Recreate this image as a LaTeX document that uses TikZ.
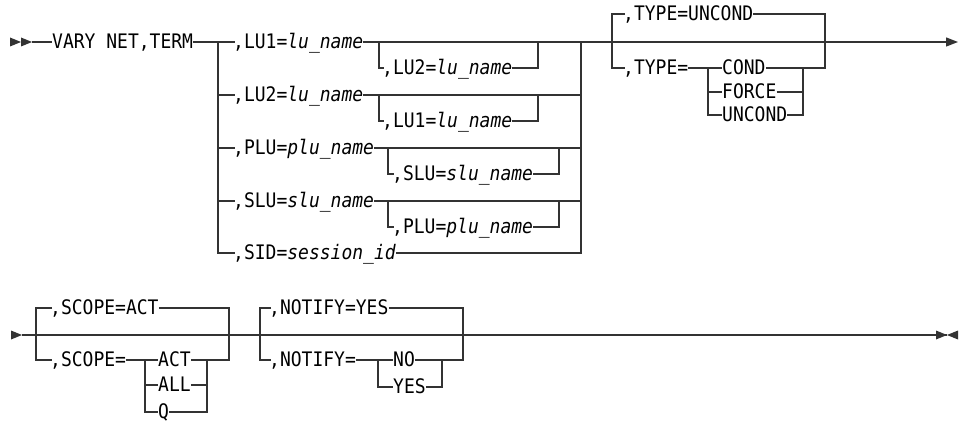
\documentclass[tikz,border=0pt]{standalone}
\usepackage{fontspec}
\setmonofont{DejaVu Sans Mono}[FakeStretch=0.9,ItalicFont={DejaVu Sans Mono Oblique}]
\usepackage{tikz}
\usetikzlibrary{arrows.meta,positioning}
\definecolor{railgray}{HTML}{333333}
\newcommand{\vname}[1]{\textit{#1}}
\newcommand{\kwcomma}{\kern-2pt,}
\newcommand{\headR}[1]{\fill[railgray] (#1) -- ++(-11,-4.5) -- ++(0,9) -- cycle;}
\newcommand{\headL}[1]{\fill[railgray] (#1) -- ++(11,-4.5) -- ++(0,9) -- cycle;}

\begin{document}
\begin{tikzpicture}[x=1pt,y=-1pt,
  rail/.style={draw=railgray,line width=1.3pt},
  kw/.style={inner sep=0pt,anchor=west,text height=13pt,text depth=0pt,
    font=\fontsize{20}{22}\selectfont\ttfamily}]
  \useasboundingbox (0,0) rectangle (966,422);
  % first line: command and the five choices
  \coordinate (in0) at (21,42);
  \coordinate (in1) at (32,42);
  \coordinate (ja) at (218,42);
  \coordinate (jc) at (581,42);
  \coordinate (out1) at (958,42);
  \node[kw] (cmd) at (52,42) {VARY NET,TERM};
  \foreach \nm/\y/\txt in {lu1/42/{\kwcomma LU1=\vname{lu\_name}},lu2/95/{\kwcomma LU2=\vname{lu\_name}},
      plu/148/{\kwcomma PLU=\vname{plu\_name}},slu/201/{\kwcomma SLU=\vname{slu\_name}},sid/253/{\kwcomma SID=\vname{session\_id}}}
    \node[kw] (\nm) at (235,\y) {\txt};
  \node[kw] (o1) at (384,68) {\kwcomma LU2=\vname{lu\_name}};
  \node[kw] (o2) at (384,121) {\kwcomma LU1=\vname{lu\_name}};
  \node[kw] (o3) at (394,174) {\kwcomma SLU=\vname{slu\_name}};
  \node[kw] (o4) at (394,227) {\kwcomma PLU=\vname{plu\_name}};
  \foreach \i/\y/\xl/\xr in {1/42/379/538,2/95/379/538,3/148/388/559,4/201/388/559} {
    \coordinate (b\i) at (\xl,\y);
    \coordinate (c\i) at (\xr,\y);
  }
  \headR{in0}
  \headR{in1}
  \draw[rail] (in1) -- (cmd.west);
  \draw[rail] (cmd.east) -- (lu1.west);
  \draw[rail] (ja) |- (sid.west);
  \foreach \nm in {lu2,plu,slu} {
    \draw[rail] (ja |- \nm.west) -- (\nm.west);
    \draw[rail] (\nm.east) -- (jc |- \nm.east);
  }
  \draw[rail] (jc) |- (sid.east);
  \foreach \i in {1,...,4} {
    \draw[rail] (b\i) |- (o\i.west);
    \draw[rail] (o\i.east) -| (c\i);
  }
  % TYPE
  \coordinate (jt) at (612,42);
  \coordinate (ju) at (825,42);
  \coordinate (tv) at (708,68);
  \coordinate (tw) at (803,68);
  \node[kw] (tu) at (625,14) {\kwcomma TYPE=UNCOND};
  \node[kw] (tp) at (625,68) {\kwcomma TYPE=};
  \node[kw] (cond) at (722,68) {COND};
  \node[kw] (force) at (722,92) {FORCE};
  \node[kw] (unc) at (722,115) {UNCOND};
  \draw[rail,-{Triangle[length=12pt,width=9pt]}] (lu1.east) -- (out1);
  \draw[rail] (tu.west) -| (jt) |- (tp.west);
  \draw[rail] (tu.east) -| (ju) |- (cond.east);
  \draw[rail] (tp.east) -- (cond.west);
  \draw[rail] (tv) |- (unc.west);
  \draw[rail] (tv |- force.west) -- (force.west);
  \draw[rail] (unc.east) -| (tw);
  \draw[rail] (force.east) -- (tw |- force.east);
  % second line: SCOPE and NOTIFY
  \coordinate (in2) at (22,335);
  \coordinate (out2) at (947,335);
  \coordinate (ka) at (36,335);
  \coordinate (kb) at (229,335);
  \coordinate (kc) at (145,360);
  \coordinate (kd) at (207,360);
  \coordinate (na) at (260,335);
  \coordinate (nb) at (463,335);
  \coordinate (nc) at (378,360);
  \coordinate (nd) at (442,360);
  \node[kw] (sa) at (52,308) {\kwcomma SCOPE=ACT};
  \node[kw] (sp) at (52,360) {\kwcomma SCOPE=};
  \node[kw] (act) at (158,360) {ACT};
  \node[kw] (all) at (158,385) {ALL};
  \node[kw] (q) at (158,412) {Q};
  \node[kw] (ny) at (271,308) {\kwcomma NOTIFY=YES};
  \node[kw] (np) at (271,360) {\kwcomma NOTIFY=};
  \node[kw] (no) at (393,360) {NO};
  \node[kw] (yes) at (393,387) {YES};
  \headR{in2}
  \draw[rail] (in2) -- (out2);
  \headR{out2}
  \headL{out2}
  \draw[rail] (sa.west) -| (ka) |- (sp.west);
  \draw[rail] (sa.east) -| (kb) |- (act.east);
  \draw[rail] (sp.east) -- (act.west);
  \draw[rail] (kc) |- (q.west);
  \draw[rail] (kc |- all.west) -- (all.west);
  \draw[rail] (q.east) -| (kd);
  \draw[rail] (all.east) -- (kd |- all.east);
  \draw[rail] (ny.west) -| (na) |- (np.west);
  \draw[rail] (ny.east) -| (nb) |- (no.east);
  \draw[rail] (np.east) -- (no.west);
  \draw[rail] (nc) |- (yes.west);
  \draw[rail] (yes.east) -| (nd);
\end{tikzpicture}
\end{document}
